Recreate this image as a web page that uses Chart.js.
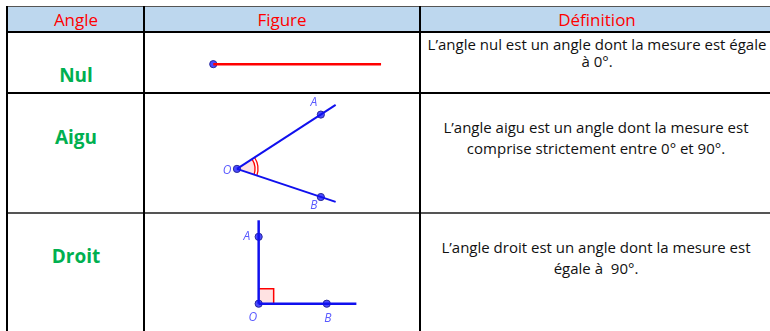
<!DOCTYPE html>
<html>
<head>
<meta charset="utf-8">
<script src="https://cdn.jsdelivr.net/npm/chart.js@4.4.1/dist/chart.umd.min.js"></script>
<style>
    body { margin:0; background:#ffffff; width:770px; height:331px; overflow:hidden; position:relative; font-family:"Comic Sans MS", "Open Sans", sans-serif; }
    .ln { position:absolute; background:#000000; }
    .txt { position:absolute; text-align:center; white-space:nowrap; }
    .head { color:#ff0000; font-size:17px; line-height:20px; top:10px; }
    .name { color:#00b050; font-size:19px; font-weight:bold; line-height:24px; }
    .def { color:#111111; font-size:15px; }
    #fig { position:absolute; left:0; top:0; }
</style>
</head>
<body>
<div class="ln" style="left:8px;top:7px;width:762px;height:25px;background:#bdd7ee;"></div>
<div class="ln" style="left:7px;top:6px;width:763px;height:1px;background:#555555;"></div>
<div class="ln" style="left:7px;top:31px;width:763px;height:2px;"></div>
<div class="ln" style="left:7px;top:92px;width:763px;height:2px;"></div>
<div class="ln" style="left:7px;top:212px;width:763px;height:2px;background:#555555;"></div>
<div class="ln" style="left:6px;top:6px;width:2px;height:325px;"></div>
<div class="ln" style="left:143px;top:6px;width:2px;height:325px;"></div>
<div class="ln" style="left:419px;top:6px;width:2px;height:325px;"></div>

<div class="txt head" style="left:-124px;width:400px;">Angle</div>
<div class="txt head" style="left:82px;width:400px;">Figure</div>
<div class="txt head" style="left:397px;width:400px;">Définition</div>

<div class="txt name" style="left:-124px;width:400px;top:63px;">Nul</div>
<div class="txt name" style="left:-124px;width:400px;top:125px;">Aigu</div>
<div class="txt name" style="left:-124px;width:400px;top:244px;">Droit</div>

<div class="txt def" style="left:397px;width:400px;top:36px;line-height:17px;">L’angle nul est un angle dont la mesure est égale<br>à 0°.</div>
<div class="txt def" style="left:396px;width:400px;top:117px;line-height:21px;">L’angle aigu est un angle dont la mesure est<br>comprise strictement entre 0° et 90°.</div>
<div class="txt def" style="left:396px;width:400px;top:237px;line-height:21px;">L’angle droit est un angle dont la mesure est<br>égale à&nbsp; 90°.</div>

<canvas id="fig" width="770" height="331"></canvas>

<script>
// figure coordinates (page pixels, y down)
const nulRay = [[211, 61], [381, 61]];
const nulPoints = [[211, 61]];

const aiguRayA = [[235, 169], [335, 103]];
const aiguRayB = [[235, 169], [335, 203]];
const aiguPoints = [[235, 169], [320, 113], [320, 198]];
const aiguLabels = ["O", "A", "B"];
const aiguLabelPos = [[225, 171], [313, 101], [313, 207]];

const droitRayA = [[257, 308], [257, 222]];
const droitRayB = [[257, 308], [356, 308]];
const droitPoints = [[257, 308], [257, 239], [326, 308]];
const droitLabels = ["O", "A", "B"];
const droitLabelPos = [[251, 322], [245, 239], [327, 323]];

function xy(arr) {
    return arr.map(function(p) { return {x: p[0], y: p[1]}; });
}

function lineSet(arr, color, width) {
    return {
        data: xy(arr),
        showLine: true,
        borderColor: color,
        borderWidth: width,
        pointRadius: 0,
        clip: false
    };
}

function pointSet(arr) {
    return {
        data: xy(arr),
        showLine: false,
        pointRadius: 3.6,
        pointBackgroundColor: '#4b4bff',
        pointBorderColor: '#2a2a99',
        pointBorderWidth: 1,
        clip: false
    };
}

const marks = {
    id: 'marks',
    beforeDatasetsDraw: function(chart) {
        const c = chart.ctx;
        const sx = chart.scales.x, sy = chart.scales.y;
        // acute angle arcs
        const o = aiguPoints[0], a = aiguPoints[1], b = aiguPoints[2];
        const ox = sx.getPixelForValue(o[0]), oy = sy.getPixelForValue(o[1]);
        const a1 = Math.atan2(sy.getPixelForValue(a[1]) - oy, sx.getPixelForValue(a[0]) - ox);
        const a2 = Math.atan2(sy.getPixelForValue(b[1]) - oy, sx.getPixelForValue(b[0]) - ox);
        c.save();
        c.fillStyle = '#ffe2e2';
        c.beginPath();
        c.moveTo(ox, oy);
        c.arc(ox, oy, 18, a1, a2);
        c.closePath();
        c.fill();
        c.strokeStyle = '#ff0000';
        c.lineWidth = 1.3;
        [18, 21].forEach(function(r) {
            c.beginPath();
            c.arc(ox, oy, r, a1, a2);
            c.stroke();
        });
        // right angle square
        const d = droitPoints[0];
        const dx = sx.getPixelForValue(d[0]), dy = sy.getPixelForValue(d[1]);
        c.fillStyle = '#ffe2e2';
        c.fillRect(dx, dy - 15, 15, 15);
        c.strokeStyle = '#ff0000';
        c.lineWidth = 1.5;
        c.beginPath();
        c.moveTo(dx, dy - 15);
        c.lineTo(dx + 15, dy - 15);
        c.lineTo(dx + 15, dy);
        c.stroke();
        c.restore();
    },
    afterDatasetsDraw: function(chart) {
        const c = chart.ctx;
        const sx = chart.scales.x, sy = chart.scales.y;
        c.save();
        c.fillStyle = '#5a5aff';
        c.font = 'italic 12px "Open Sans", sans-serif';
        c.textAlign = 'center';
        c.textBaseline = 'middle';
        aiguLabels.forEach(function(t, i) {
            c.fillText(t, sx.getPixelForValue(aiguLabelPos[i][0]), sy.getPixelForValue(aiguLabelPos[i][1]));
        });
        droitLabels.forEach(function(t, i) {
            c.fillText(t, sx.getPixelForValue(droitLabelPos[i][0]), sy.getPixelForValue(droitLabelPos[i][1]));
        });
        c.restore();
    }
};

window.onload = function() {
    const ctx = document.getElementById('fig');
    const fig = new Chart(ctx, {
        type: 'scatter',
        data: {
            datasets: [
                lineSet(nulRay, '#ff0000', 2.5),
                pointSet(nulPoints),
                lineSet(aiguRayA, '#1010ee', 2),
                lineSet(aiguRayB, '#1010ee', 2),
                pointSet(aiguPoints),
                lineSet(droitRayA, '#1010ee', 2.5),
                lineSet(droitRayB, '#1010ee', 2.5),
                pointSet(droitPoints)
            ]
        },
        options: {
            responsive: false,
            animation: false,
            devicePixelRatio: 1,
            layout: { padding: 0 },
            plugins: { legend: { display: false }, tooltip: { enabled: false } },
            scales: {
                x: { type: 'linear', min: 0, max: 770, display: false },
                y: { type: 'linear', min: 0, max: 331, reverse: true, display: false }
            }
        },
        plugins: [marks]
    });
}
</script>
</body>
</html>
